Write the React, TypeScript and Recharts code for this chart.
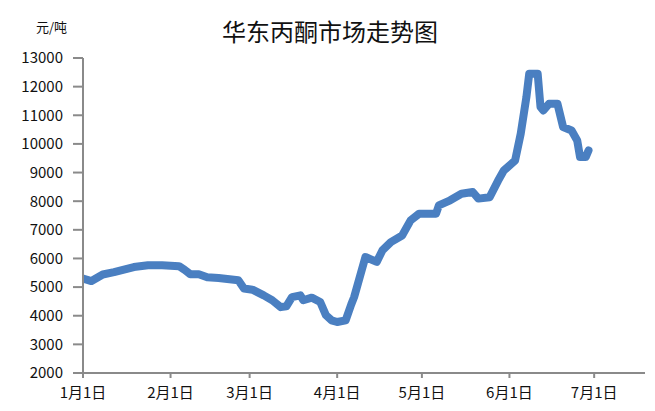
import React from 'react';
import { LineChart, Line, XAxis, YAxis } from 'recharts';

const title = '华东丙酮市场走势图';
const unitLabel = '元/吨';

// day index from Jan 1
const days = [0, 3, 7, 11, 18, 23, 28, 34, 36, 38, 41, 44, 48, 55, 57, 60, 64, 67, 70, 72, 74, 77, 78, 81, 84, 86, 88, 90, 93, 95, 96, 97, 100, 104, 106, 109, 113, 116, 119, 125, 126, 130, 134, 138, 140, 144, 147, 149, 153, 155, 157, 158, 161, 162, 163, 165, 168, 170, 173, 175, 176, 178, 179];
const prices = [5300, 5210, 5440, 5520, 5700, 5760, 5760, 5730, 5600, 5450, 5445, 5340, 5320, 5240, 4950, 4910, 4710, 4540, 4300, 4330, 4650, 4710, 4540, 4630, 4480, 4020, 3840, 3780, 3840, 4400, 4650, 5000, 6050, 5880, 6280, 6570, 6800, 7330, 7560, 7560, 7850, 8030, 8260, 8320, 8090, 8140, 8720, 9070, 9420, 10360, 11630, 12450, 12450, 11290, 11170, 11400, 11400, 10590, 10470, 10120, 9540, 9540, 9770];

const tickDays = [0, 31, 59, 90, 120, 151, 181];
const tickLabels = ['1月1日', '2月1日', '3月1日', '4月1日', '5月1日', '6月1日', '7月1日'];
const yTicks = [2000, 3000, 4000, 5000, 6000, 7000, 8000, 9000, 10000, 11000, 12000, 13000];

const data = days.map((d, i) => ({ day: d, price: prices[i] }));

const FONT = '"Noto Sans CJK SC", "Noto Sans", sans-serif';
const AXIS = '#8a8a8a';

export default function App() {
  return (
    <div style={{ position: 'absolute', left: 0, top: 0, width: 655, height: 411, background: '#fff', fontFamily: FONT }}>
      <div style={{ position: 'absolute', left: 0, width: 660, top: 16, textAlign: 'center', fontSize: 24, color: '#111', lineHeight: '30px' }}>{title}</div>
      <div style={{ position: 'absolute', left: 36, top: 18, fontSize: 13, color: '#111', lineHeight: '18px' }}>{unitLabel}</div>
      <LineChart width={655} height={411} data={data} margin={{ top: 58, right: 10, bottom: 8, left: 0 }}>
        <XAxis
          dataKey="day"
          type="number"
          domain={[0, 199]}
          ticks={tickDays}
          tickFormatter={(v) => tickLabels[tickDays.indexOf(v)] ?? ''}
          height={30}
          tickSize={5}
          tickMargin={9}
          stroke={AXIS}
          strokeWidth={2}
          tick={{ fill: '#111', fontSize: 15, fontFamily: FONT }}
          interval={0}
          allowDataOverflow
        />
        <YAxis
          type="number"
          domain={[2000, 13000]}
          ticks={yTicks}
          width={83}
          tickSize={10}
          tickMargin={10}
          stroke={AXIS}
          strokeWidth={2}
          tick={{ fill: '#111', fontSize: 15, fontFamily: FONT }}
          interval={0}
        />
        <Line
          type="linear"
          dataKey="price"
          stroke="#4a7fc1"
          strokeWidth={8}
          strokeLinejoin="round"
          strokeLinecap="round"
          dot={false}
          isAnimationActive={false}
        />
      </LineChart>
    </div>
  );
}
